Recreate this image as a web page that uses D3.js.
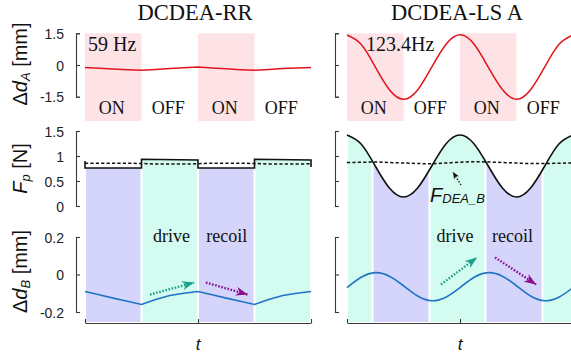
<!DOCTYPE html>
<html>
<head>
<meta charset="utf-8">
<script src="https://cdn.jsdelivr.net/npm/d3@7"></script>
<style>
  html, body { margin: 0; padding: 0; background: #fff; }
  svg { display: block; }
</style>
</head>
<body>
<svg id="chart" width="571" height="354"></svg>
<script>
// ---- data ----------------------------------------------------------------
// sample instants, in drive periods
const tSamples = [0, 0.125, 0.25, 0.375, 0.5, 0.625, 0.75, 0.875, 1,
                  1.125, 1.25, 1.375, 1.5, 1.625, 1.75, 1.875, 2];

const panelTitles = ["DCDEA-RR", "DCDEA-LS A"];
const freqLabels = ["59 Hz", "123.4Hz"];
const phaseEdges = [0, 0.5, 1, 1.5, 2];
const phaseLabels = ["ON", "OFF", "ON", "OFF"];

// Δd_A [mm]
const dA_RR = [-0.12, -0.15, -0.19, -0.22, -0.25, -0.21, -0.17, -0.13, -0.10,
               -0.14, -0.18, -0.22, -0.25, -0.21, -0.17, -0.14, -0.12];
const dA_LS = [1.42, 0.98, -0.09, -1.17, -1.62, -1.18, -0.10, 0.97, 1.43,
               0.98, -0.10, -1.16, -1.62, -1.17, -0.09, 0.97, 1.42];

// F_p [N] (RR is a step trace, given with its own instants)
const fpRR_t = [0, 0, 0.5, 0.5, 1, 1, 1.5, 1.5, 2, 2];
const fpRR = [0.90, 0.76, 0.76, 0.935, 0.92, 0.76, 0.76, 0.935, 0.92, 0.78];
const fpLS = [1.42, 1.24, 0.80, 0.36, 0.18, 0.36, 0.80, 1.24, 1.42,
              1.24, 0.80, 0.36, 0.18, 0.36, 0.80, 1.24, 1.42];

// F_DEA_B [N]
const fdeaRR = [0.855, 0.855, 0.855, 0.855, 0.85, 0.84, 0.84, 0.84, 0.845,
                0.855, 0.855, 0.855, 0.85, 0.84, 0.84, 0.84, 0.845];
const fdeaLS = [0.87, 0.875, 0.88, 0.87, 0.86, 0.85, 0.845, 0.86, 0.875,
                0.885, 0.88, 0.87, 0.86, 0.85, 0.85, 0.855, 0.86];

// Δd_B [mm]
const dB_RR = [-0.091, -0.108, -0.126, -0.143, -0.160, -0.133, -0.112, -0.100, -0.091,
               -0.108, -0.126, -0.143, -0.160, -0.133, -0.112, -0.100, -0.091];
const dB_LS = [-0.070, -0.015, 0.010, -0.009, -0.060, -0.115, -0.140, -0.121, -0.070,
               -0.015, 0.010, -0.009, -0.060, -0.115, -0.140, -0.121, -0.070];

// drive / recoil phases
const bandEdgesRR = [0, 0.5, 1, 1.5, 2];
const bandKindsRR = ["recoil", "drive", "recoil", "drive"];
const bandEdgesLS = [0, 0.225, 0.73, 1.225, 1.73, 2];
const bandKindsLS = ["drive", "recoil", "drive", "recoil", "drive"];

// direction arrows in the Δd_B panel: [t0, v0, t1, v1, phase]
const arrowsRR = [[0.575, -0.107, 0.965, -0.043, "drive"], [1.07, -0.043, 1.44, -0.107, "recoil"]];
const arrowsLS = [[0.832, -0.053, 1.15, 0.091, "drive"], [1.31, 0.091, 1.673, -0.053, "recoil"]];
// phase word anchors [t, label]
const wordsRR = [[0.765, "drive"], [1.255, "recoil"]];
const wordsLS = [[0.955, "drive"], [1.465, "recoil"]];

const yTicksA = [-1.5, 0, 1.5];
const yTicksF = [0, 0.5, 1, 1.5];
const yTicksB = [-0.2, 0, 0.2];
const xTicks = [0, 1, 2];

// ---- layout --------------------------------------------------------------
const W = 571, H = 354;
const serif = "'Liberation Serif', 'Times New Roman', serif";
const sans = "'Liberation Sans', Arial, sans-serif";
const col = {
  pink: "#fde3e6", recoil: "#d5d5fb", drive: "#d3fbf0",
  red: "#e3141c", blue: "#1f74c6", axis: "#3a3a3a",
  arrowDrive: "#1ea08a", arrowRecoil: "#8c0d8c"
};

const yA = d3.scaleLinear().domain([-1.5, 1.5]).range([96.7, 33.3]);
const yF = d3.scaleLinear().domain([0, 1.5]).range([206, 131]);
const yB = d3.scaleLinear().domain([-0.2, 0.2]).range([312, 237]);
const pinkBottom = 121, bandBottom = 322, axisY = 323;

const panels = [
  { x: d3.scaleLinear().domain([0, 2]).range([85, 311]), yAxisX: 76, showTickLabels: true,
    title: panelTitles[0], freq: freqLabels[0], freqX: 88,
    dA: dA_RR, fpT: fpRR_t, fp: fpRR, fpCurve: d3.curveLinear,
    fdea: fdeaRR, dB: dB_RR, dCurve: d3.curveLinear,
    bandEdges: bandEdgesRR, bandKinds: bandKindsRR, arrows: arrowsRR, words: wordsRR },
  { x: d3.scaleLinear().domain([0, 2]).range([347, 573]), yAxisX: 335, showTickLabels: false,
    title: panelTitles[1], freq: freqLabels[1], freqX: 366,
    dA: dA_LS, fpT: tSamples, fp: fpLS, fpCurve: d3.curveNatural,
    fdea: fdeaLS, dB: dB_LS, dCurve: d3.curveNatural,
    bandEdges: bandEdgesLS, bandKinds: bandKindsLS, arrows: arrowsLS, words: wordsLS }
];

const svg = d3.select("#chart");
const defs = svg.append("defs");

// arrowheads
[["drive", col.arrowDrive, 12, 9], ["recoil", col.arrowRecoil, 12, 9], ["note", "#111", 7, 6]]
  .forEach(([id, c, len, wid]) => {
    defs.append("marker")
      .attr("id", "head-" + id)
      .attr("viewBox", `0 ${-wid / 2} ${len} ${wid}`)
      .attr("refX", len).attr("refY", 0)
      .attr("markerWidth", len).attr("markerHeight", wid)
      .attr("markerUnits", "userSpaceOnUse")
      .attr("orient", "auto")
      .append("path")
      .attr("d", `M0,${-wid / 2}L${len},0L0,${wid / 2}L${len * 0.3},0Z`)
      .attr("fill", c);
  });

panels.forEach((p, pi) => {
  const g = svg.append("g");
  const x = p.x;

  // title
  g.append("text")
    .attr("x", (x.range()[0] + x.range()[1]) / 2 - 3).attr("y", 20)
    .attr("text-anchor", "middle")
    .style("font-family", serif).style("font-size", "22.5px").attr("fill", "#111")
    .text(p.title);

  // ---- Δd_A panel ----
  phaseLabels.forEach((lab, i) => {
    const x0 = x(phaseEdges[i]), x1 = x(phaseEdges[i + 1]);
    if (lab === "ON") {
      g.append("rect")
        .attr("x", x0).attr("width", x1 - x0)
        .attr("y", yA(1.5)).attr("height", pinkBottom - yA(1.5))
        .attr("fill", col.pink);
    }
    g.append("text")
      .attr("x", (x0 + x1) / 2 - 1.5).attr("y", 114)
      .attr("text-anchor", "middle")
      .style("font-family", serif).style("font-size", "18px").attr("fill", "#111")
      .text(lab);
  });

  g.append("path")
    .datum(p.dA)
    .attr("d", d3.line().x((d, i) => x(tSamples[i])).y(d => yA(d)).curve(p.dCurve))
    .attr("fill", "none").attr("stroke", col.red).attr("stroke-width", 1.5);

  g.append("text")
    .attr("x", p.freqX).attr("y", 51)
    .style("font-family", serif).style("font-size", "20px").attr("fill", "#111")
    .text(p.freq);

  // ---- drive / recoil bands under F_p, reaching down through Δd_B ----
  const fpArea = d3.area()
    .x((d, i) => x(p.fpT[i]))
    .y0(bandBottom)
    .y1(d => yF(d))
    .curve(p.fpCurve);

  p.bandKinds.forEach((kind, i) => {
    const x0 = x(p.bandEdges[i]) + 1;
    const x1 = Math.min(x(p.bandEdges[i + 1]) - 1, W + 5);
    const id = `band-${pi}-${i}`;
    defs.append("clipPath").attr("id", id)
      .append("rect").attr("x", x0).attr("y", 0).attr("width", x1 - x0).attr("height", H);
    g.append("path")
      .datum(p.fp)
      .attr("d", fpArea)
      .attr("clip-path", `url(#${id})`)
      .attr("fill", col[kind]);
  });

  // F_DEA_B (dashed) and F_p
  g.append("path")
    .datum(p.fdea)
    .attr("d", d3.line().x((d, i) => x(tSamples[i])).y(d => yF(d)).curve(d3.curveMonotoneX))
    .attr("fill", "none").attr("stroke", "#111").attr("stroke-width", 1.5)
    .attr("stroke-dasharray", "3.2,2.2");
  g.append("path")
    .datum(p.fp)
    .attr("d", d3.line().x((d, i) => x(p.fpT[i])).y(d => yF(d)).curve(p.fpCurve))
    .attr("fill", "none").attr("stroke", "#111").attr("stroke-width", 1.6);

  // ---- Δd_B ----
  g.append("path")
    .datum(p.dB)
    .attr("d", d3.line().x((d, i) => x(tSamples[i])).y(d => yB(d)).curve(p.dCurve))
    .attr("fill", "none").attr("stroke", col.blue).attr("stroke-width", 1.6);

  p.words.forEach(([t, w]) => {
    g.append("text")
      .attr("x", x(t)).attr("y", 242)
      .attr("text-anchor", "middle")
      .style("font-family", serif).style("font-size", "18px").attr("fill", "#111")
      .text(w);
  });

  p.arrows.forEach(([t0, v0, t1, v1, kind]) => {
    g.append("line")
      .attr("x1", x(t0)).attr("y1", yB(v0))
      .attr("x2", x(t1)).attr("y2", yB(v1))
      .attr("stroke", kind === "drive" ? col.arrowDrive : col.arrowRecoil)
      .attr("stroke-width", 2.4)
      .attr("stroke-dasharray", "1.6,1.6")
      .attr("marker-end", `url(#head-${kind})`);
  });

  // ---- axes ----
  const axisStyle = sel => {
    sel.selectAll("path, line").attr("stroke", col.axis).attr("stroke-width", 1.1);
    sel.selectAll("text").style("font-family", sans).style("font-size", "14px").attr("fill", "#222");
  };
  [[yA, yTicksA], [yF, yTicksF], [yB, yTicksB]].forEach(([ys, ticks]) => {
    const ax = d3.axisLeft(ys).tickValues(ticks)
      .tickSizeInner(-4).tickSizeOuter(-4).tickPadding(12)
      .tickFormat(p.showTickLabels ? d3.format("") : "");
    svg.append("g")
      .attr("transform", `translate(${p.yAxisX},0)`)
      .call(ax)
      .call(axisStyle)
      .call(s => s.selectAll("text").attr("dy", "0.36em").text(d => p.showTickLabels ? String(d) : ""));
  });

  svg.append("g")
    .attr("transform", `translate(0,${axisY})`)
    .call(d3.axisBottom(x).tickValues(xTicks).tickSizeInner(-4).tickSizeOuter(0).tickFormat(""))
    .call(axisStyle);

  svg.append("text")
    .attr("x", x(1)).attr("y", 350)
    .attr("text-anchor", "middle")
    .style("font-family", sans).style("font-style", "italic").style("font-size", "17px")
    .attr("fill", "#111")
    .text("t");
});

// F_DEA_B callout in the DCDEA-LS panel
{
  const x = panels[1].x;
  svg.append("line")
    .attr("x1", x(1.009)).attr("y1", yF(0.42))
    .attr("x2", x(0.938)).attr("y2", yF(0.68))
    .attr("stroke", "#111").attr("stroke-width", 1.3)
    .attr("stroke-dasharray", "1.5,1.5")
    .attr("marker-end", "url(#head-note)");
  const lab = svg.append("text")
    .attr("x", x(0.735)).attr("y", 202)
    .style("font-family", sans).style("font-style", "italic").attr("fill", "#111");
  lab.append("tspan").style("font-size", "20px").text("F");
  lab.append("tspan").style("font-size", "13px").attr("dy", 1).text("DEA_B");
}

// y-axis titles
const yTitles = [
  { y: yA(0) - 1, parts: [["Δ", 20, 0, false], ["d", 20, 0, true], ["A", 13, 3, true], [" [mm]", 20, -3, false]] },
  { y: yF(0.75), parts: [["F", 20, 0, true], ["p", 13, 3, true], [" [N]", 20, -3, false]] },
  { y: yB(0) - 3, parts: [["Δ", 20, 0, false], ["d", 20, 0, true], ["B", 13, 3, true], [" [mm]", 20, -3, false]] }
];
yTitles.forEach(tt => {
  const t = svg.append("text")
    .attr("transform", `translate(27,${tt.y}) rotate(-90)`)
    .attr("text-anchor", "middle")
    .style("font-family", sans).attr("fill", "#111");
  tt.parts.forEach(([s, fs, dy, it]) => {
    t.append("tspan").style("font-size", fs + "px").attr("dy", dy)
      .style("font-style", it ? "italic" : "normal").text(s);
  });
});
</script>
</body>
</html>
